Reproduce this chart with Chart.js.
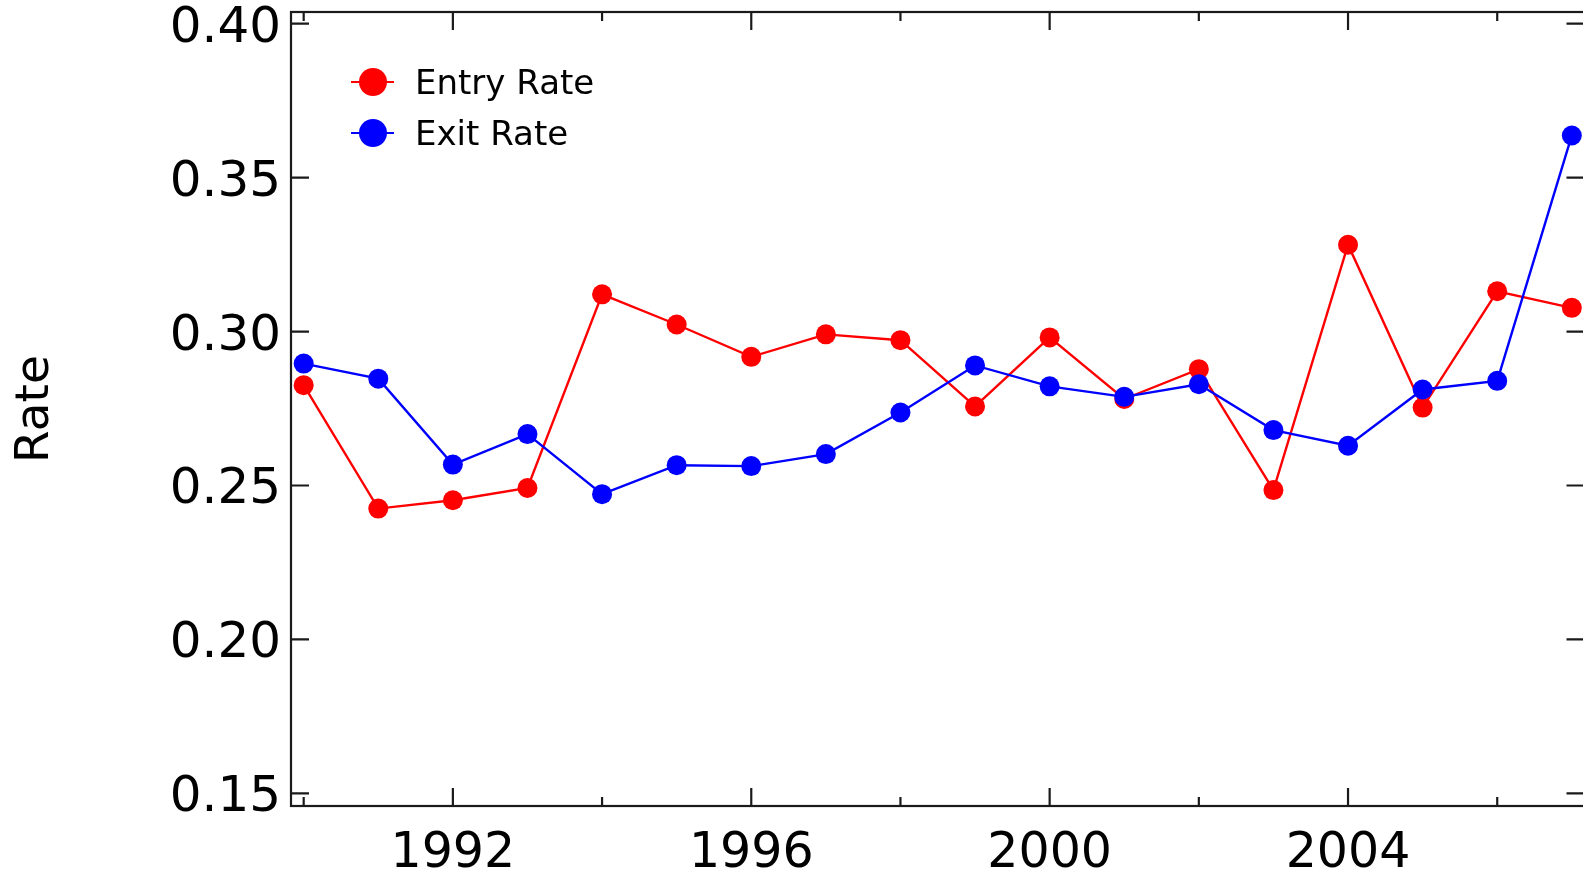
<!DOCTYPE html>
<html>
<head>
<meta charset="utf-8">
<title>Entry and Exit Rate</title>
<script src="https://cdn.jsdelivr.net/npm/chart.js@4.4.0/dist/chart.umd.min.js"></script>
<style>
  html, body { margin: 0; padding: 0; background: #fff; overflow: hidden; }
  #wrap { width: 1600px; height: 876px; }
</style>
</head>
<body>
<div id="wrap"><canvas id="rateChart" width="1600" height="876"></canvas></div>
<script>
const years = [1990, 1991, 1992, 1993, 1994, 1995, 1996, 1997, 1998, 1999,
               2000, 2001, 2002, 2003, 2004, 2005, 2006, 2007];
const entryRate = [0.2826, 0.2425, 0.2452, 0.2492, 0.3121, 0.3023, 0.2918, 0.2991, 0.2972, 0.2757,
                   0.2981, 0.2781, 0.2878, 0.2485, 0.3282, 0.2753, 0.3131, 0.3077];
const exitRate = [0.2896, 0.2847, 0.2568, 0.2667, 0.2472, 0.2566, 0.2563, 0.2602, 0.2737, 0.2890,
                  0.2822, 0.2788, 0.2829, 0.2680, 0.2629, 0.2812, 0.2840, 0.3637];
const xTickValues = [1990, 1992, 1994, 1996, 1998, 2000, 2002, 2004, 2006];
const labeledYears = [1992, 1996, 2000, 2004];
const yTickValues = [0.15, 0.20, 0.25, 0.30, 0.35, 0.40];

const FONT = "DejaVu Sans";
const AXIS_COLOR = "#1a1a1a";

function toPoints(values) {
  return years.map((yr, i) => ({ x: yr, y: values[i] }));
}

// box around the plot with inward tick marks on all four sides
const frameTicks = {
  id: "frameTicks",
  beforeDatasetsDraw(chart) {
    const { ctx, chartArea: a, scales } = chart;
    ctx.save();
    ctx.strokeStyle = AXIS_COLOR;
    ctx.lineWidth = 2.2;
    ctx.strokeRect(a.left, a.top, a.right - a.left, a.bottom - a.top);
    ctx.beginPath();
    scales.x.ticks.forEach((t) => {
      const px = scales.x.getPixelForValue(t.value);
      const len = t.value % 4 === 0 ? 18 : 9;
      ctx.moveTo(px, a.bottom);
      ctx.lineTo(px, a.bottom - len);
      ctx.moveTo(px, a.top);
      ctx.lineTo(px, a.top + len);
    });
    scales.y.ticks.forEach((t) => {
      const py = scales.y.getPixelForValue(t.value);
      ctx.moveTo(a.left, py);
      ctx.lineTo(a.left + 18, py);
      ctx.moveTo(a.right, py);
      ctx.lineTo(a.right - 18, py);
    });
    ctx.stroke();
    ctx.restore();
  },
};

// legend in the upper left: marker with a short line through it
const lineLegend = {
  id: "lineLegend",
  afterDatasetsDraw(chart) {
    const { ctx } = chart;
    const x0 = 373, y0 = 82, rowGap = 51;
    ctx.save();
    chart.data.datasets.forEach((ds, i) => {
      const cy = y0 + i * rowGap;
      ctx.strokeStyle = ds.borderColor;
      ctx.fillStyle = ds.backgroundColor;
      ctx.lineWidth = 2;
      ctx.beginPath();
      ctx.moveTo(x0 - 22, cy);
      ctx.lineTo(x0 + 21, cy);
      ctx.stroke();
      ctx.beginPath();
      ctx.arc(x0, cy, 14, 0, Math.PI * 2);
      ctx.fill();
      ctx.fillStyle = "#000";
      ctx.font = "34px '" + FONT + "'";
      ctx.textAlign = "left";
      ctx.textBaseline = "alphabetic";
      ctx.fillText(ds.label, 415, cy + 12);
    });
    ctx.restore();
  },
};

const ctx = document.getElementById("rateChart").getContext("2d");
const rateChart = new Chart(ctx, {
  type: "line",
  data: {
    datasets: [
      {
        label: "Entry Rate",
        data: toPoints(entryRate),
        borderColor: "#ff0000",
        backgroundColor: "#ff0000",
        borderWidth: 2.4,
        pointRadius: 10,
        pointHoverRadius: 10,
        pointBorderWidth: 0,
        tension: 0,
        order: 1,
      },
      {
        label: "Exit Rate",
        data: toPoints(exitRate),
        borderColor: "#0000ff",
        backgroundColor: "#0000ff",
        borderWidth: 2.4,
        pointRadius: 10,
        pointHoverRadius: 10,
        pointBorderWidth: 0,
        tension: 0,
        order: 0,
      },
    ],
  },
  options: {
    responsive: false,
    animation: false,
    devicePixelRatio: 1,
    layout: { padding: { top: 12, right: 15.5, bottom: 0, left: 0 } },
    plugins: {
      legend: { display: false },
      tooltip: { enabled: false },
    },
    scales: {
      x: {
        type: "linear",
        min: 1989.83,
        max: 2007.17,
        afterBuildTicks: (scale) => {
          scale.ticks = xTickValues.map((v) => ({ value: v }));
        },
        afterFit: (scale) => {
          scale.height = 70;
          scale.paddingLeft = 0;
          scale.paddingRight = 0;
        },
        grid: { display: false, drawTicks: false },
        border: { display: false },
        ticks: {
          padding: 19,
          color: "#000",
          maxRotation: 0,
          autoSkip: false,
          font: { family: FONT, size: 49 },
          callback: (v) => (labeledYears.includes(v) ? String(v) : ""),
        },
      },
      y: {
        min: 0.1459,
        max: 0.4038,
        afterBuildTicks: (scale) => {
          scale.ticks = yTickValues.map((v) => ({ value: v }));
        },
        afterFit: (scale) => {
          scale.width = 291;
          scale.paddingTop = 0;
          scale.paddingBottom = 0;
        },
        grid: { display: false, drawTicks: false },
        border: { display: false },
        ticks: {
          padding: 10,
          labelOffset: 5,
          color: "#000",
          font: { family: FONT, size: 50 },
          callback: (v) => v.toFixed(2),
        },
        title: {
          display: true,
          text: "Rate",
          color: "#000",
          font: { family: FONT, size: 47 },
          padding: { top: 8, bottom: 0 },
        },
      },
    },
  },
  plugins: [frameTicks, lineLegend],
});
</script>
</body>
</html>
